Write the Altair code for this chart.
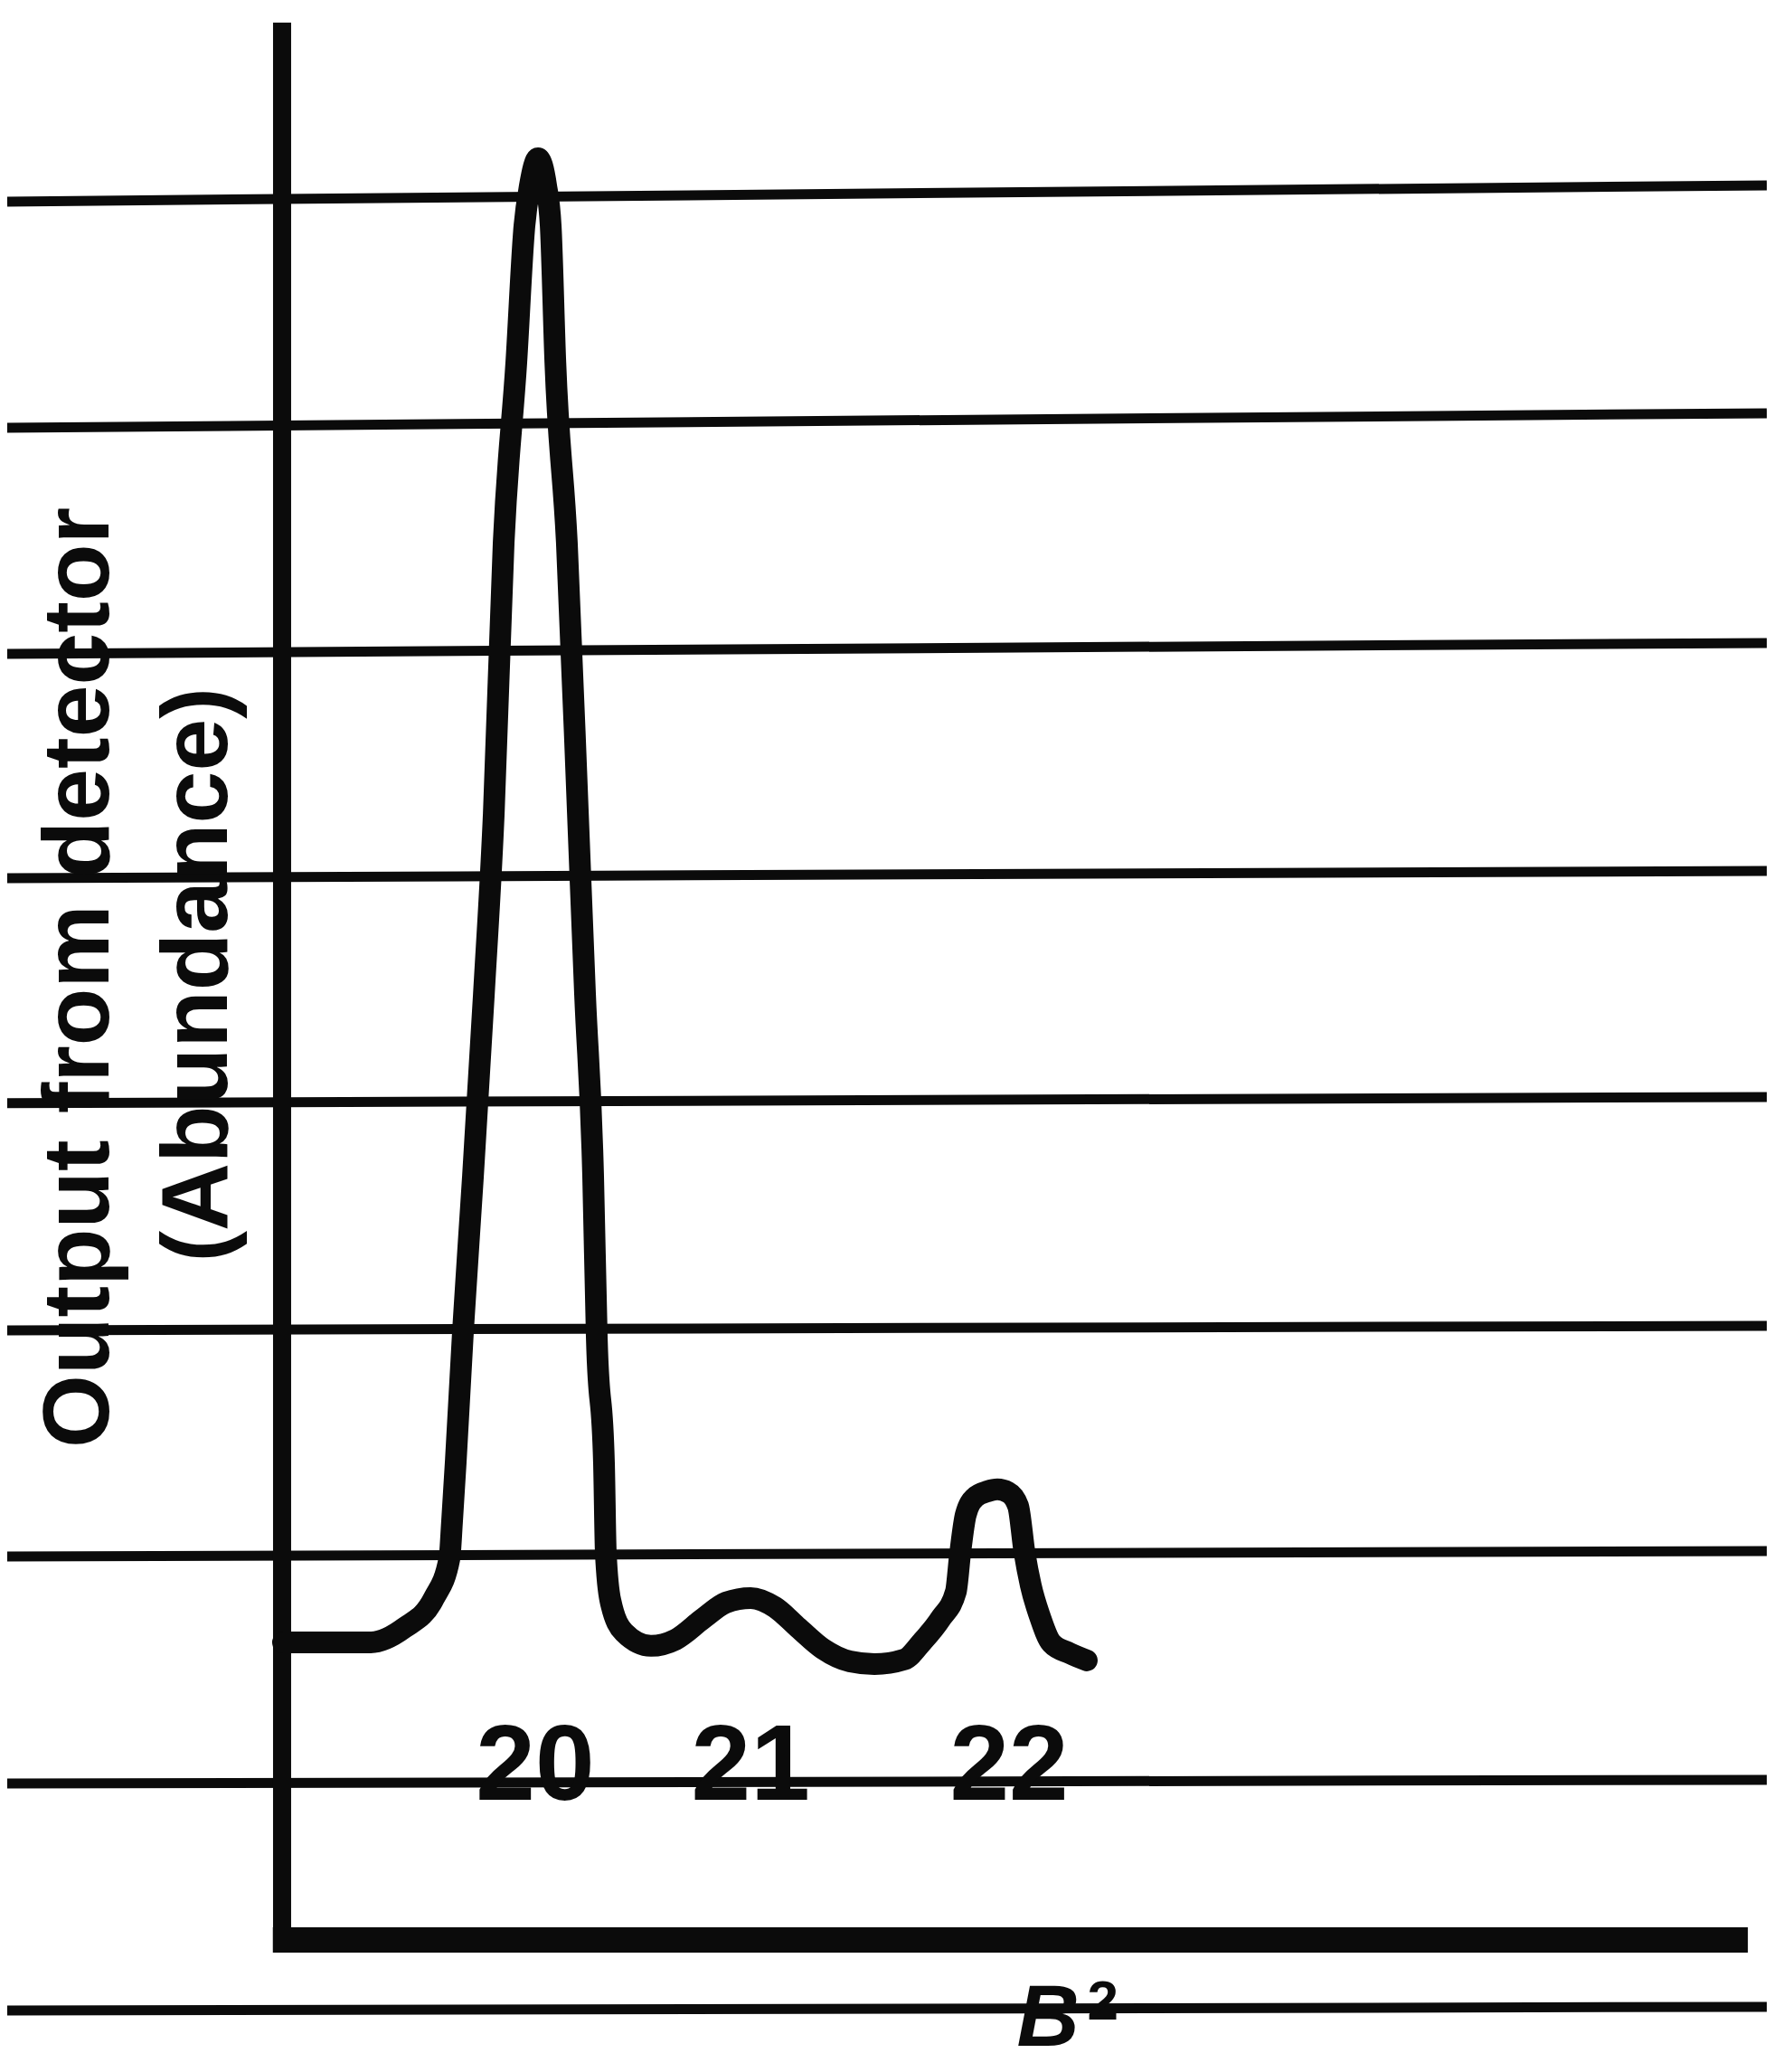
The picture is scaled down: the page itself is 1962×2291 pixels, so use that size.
import altair as alt
import pandas as pd

# ---- data (x in B^2 scan units, y in relative abundance) ----
curve_x = [18.894, 19.275, 19.420, 19.549, 19.616, 19.627, 19.643, 19.675, 19.718, 19.765,
           19.808, 19.851, 19.906, 19.941, 19.965, 20.000, 20.035, 20.055, 20.075, 20.125,
           20.173, 20.204, 20.239, 20.255, 20.286, 20.294, 20.314, 20.373, 20.490, 20.596,
           20.714, 20.816, 20.922, 21.027, 21.129, 21.235, 21.353, 21.459, 21.588, 21.667,
           21.745, 21.812, 21.831, 21.855, 21.894, 21.949, 21.992, 22.039, 22.082, 22.110,
           22.137, 22.176, 22.227, 22.306, 22.380]
curve_y = [16.66, 16.66, 17.47, 19.14, 21.37, 23.39, 26.73, 34.18, 42.78, 52.91,
           63.04, 78.23, 88.35, 95.95, 98.23, 99.75, 98.23, 95.95, 88.35, 78.23,
           63.04, 52.91, 42.78, 33.67, 26.73, 21.67, 18.99, 17.22, 16.46, 16.81,
           17.97, 18.89, 19.14, 18.63, 17.47, 16.30, 15.59, 15.44, 15.70, 16.71,
           17.97, 19.49, 21.67, 23.80, 24.76, 25.11, 25.22, 25.06, 24.30, 21.67,
           19.85, 18.13, 16.61, 16.05, 15.65]

peak_labels = ["20", "21", "22"]
peak_label_x = [19.988, 20.922, 22.043]
peak_label_y = [7.85, 7.85, 7.85]

# ruled notebook lines (value at left edge, value at right edge)
ruled_left = [97.32, 84.66, 72.00, 59.44, 46.84, 34.13, 21.47, 8.76, -3.95]
ruled_right = [98.23, 85.47, 72.61, 59.85, 47.19, 34.38, 21.77, 8.96, -3.75]

x_min, x_max = 17.698, 25.329
y_min, y_max = -6.99, 108.2

axis_x0 = 18.890
axis_x_end = 25.247
axis_y_top = 107.34
axis_y_bottom = -0.6

title_lines = ["Output from detector", "(Abundance)"]
title_x = [18.015, 18.529]
title_y = [53.87, 54.03]

xlab_main = "B"
xlab_main_x, xlab_main_y = 22.212, -5.93
xlab_sup = "2"
xlab_sup_x, xlab_sup_y = 22.450, -4.46

# ---- build ----
xs = alt.Scale(domain=[x_min, x_max], nice=False, zero=False)
ys = alt.Scale(domain=[y_min, y_max], nice=False, zero=False)

ink = "#0b0b0b"

ruled_df = pd.DataFrame({
    "x": [x_min] * len(ruled_left),
    "x2": [x_max] * len(ruled_left),
    "y": ruled_left,
    "y2": ruled_right,
})
ruled = alt.Chart(ruled_df).mark_rule(color=ink, strokeWidth=11).encode(
    x=alt.X("x:Q", scale=xs, axis=None),
    x2="x2:Q",
    y=alt.Y("y:Q", scale=ys, axis=None),
    y2="y2:Q",
)

yaxis_df = pd.DataFrame({"x": [axis_x0], "x2": [axis_x0], "y": [axis_y_top], "y2": [axis_y_bottom]})
yaxis = alt.Chart(yaxis_df).mark_rule(color=ink, strokeWidth=20, strokeCap="butt").encode(
    x=alt.X("x:Q", scale=xs, axis=None), x2="x2:Q",
    y=alt.Y("y:Q", scale=ys, axis=None), y2="y2:Q",
)

xaxis_df = pd.DataFrame({"x": [axis_x0 - 0.04], "x2": [axis_x_end], "y": [0.0], "y2": [0.0]})
xaxis = alt.Chart(xaxis_df).mark_rule(color=ink, strokeWidth=28).encode(
    x=alt.X("x:Q", scale=xs, axis=None), x2="x2:Q",
    y=alt.Y("y:Q", scale=ys, axis=None), y2="y2:Q",
)

curve_df = pd.DataFrame({"x": curve_x, "y": curve_y})
curve = alt.Chart(curve_df).mark_line(
    color=ink, strokeWidth=24, interpolate="monotone", strokeCap="round", strokeJoin="round"
).encode(
    x=alt.X("x:Q", scale=xs, axis=None),
    y=alt.Y("y:Q", scale=ys, axis=None),
)

labels_df = pd.DataFrame({"x": peak_label_x, "y": peak_label_y, "t": peak_labels})
labels = alt.Chart(labels_df).mark_text(
    font="Liberation Sans Narrow, Arial Narrow, Liberation Sans", fontWeight="bold",
    fontSize=118, color=ink, align="center", baseline="alphabetic"
).encode(
    x=alt.X("x:Q", scale=xs, axis=None),
    y=alt.Y("y:Q", scale=ys, axis=None),
    text="t:N",
)

title_df = pd.DataFrame({"x": title_x, "y": title_y, "t": title_lines})
ytitle = alt.Chart(title_df).mark_text(
    font="Liberation Sans", fontWeight="bold", fontSize=104, color=ink,
    angle=270, align="center", baseline="middle"
).encode(
    x=alt.X("x:Q", scale=xs, axis=None),
    y=alt.Y("y:Q", scale=ys, axis=None),
    text="t:N",
)

bmain_df = pd.DataFrame({"x": [xlab_main_x], "y": [xlab_main_y], "t": [xlab_main]})
bmain = alt.Chart(bmain_df).mark_text(
    font="Liberation Sans", fontWeight="bold", fontStyle="italic", fontSize=96,
    color=ink, align="center", baseline="alphabetic"
).encode(
    x=alt.X("x:Q", scale=xs, axis=None),
    y=alt.Y("y:Q", scale=ys, axis=None),
    text="t:N",
)

bsup_df = pd.DataFrame({"x": [xlab_sup_x], "y": [xlab_sup_y], "t": [xlab_sup]})
bsup = alt.Chart(bsup_df).mark_text(
    font="Liberation Sans", fontWeight="bold", fontSize=62,
    color=ink, align="center", baseline="alphabetic"
).encode(
    x=alt.X("x:Q", scale=xs, axis=None),
    y=alt.Y("y:Q", scale=ys, axis=None),
    text="t:N",
)

chart = alt.layer(ruled, yaxis, xaxis, curve, labels, ytitle, bmain, bsup).properties(
    width=1946, height=2275,
    autosize=alt.AutoSizeParams(type="none"),
    padding=0,
    background="white",
).configure_view(strokeWidth=0)

chart.save("out.html", embed_options={"renderer": "svg", "actions": False})
